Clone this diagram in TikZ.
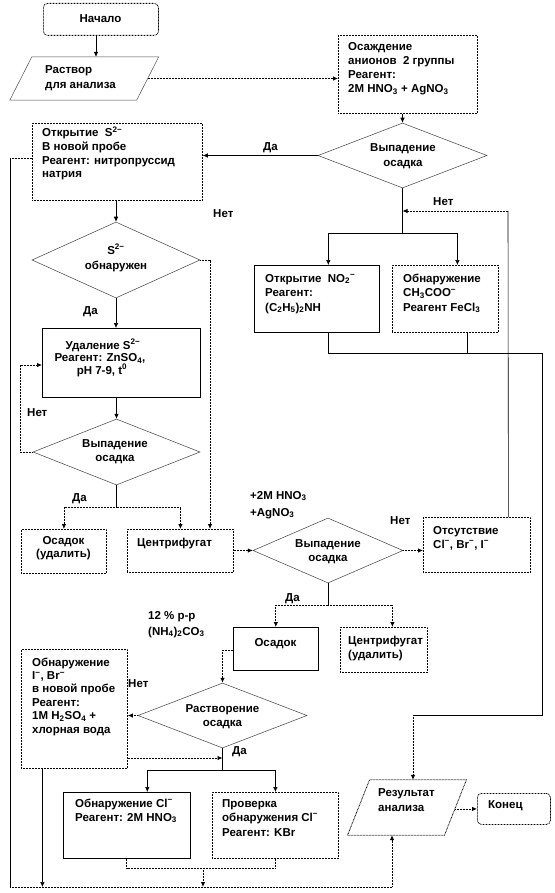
\documentclass[tikz,border=0pt]{standalone}
\usepackage{fontspec}
\setmainfont{Liberation Sans}
\usetikzlibrary{shapes.geometric,arrows.meta,calc}
\begin{document}
\begin{tikzpicture}[x=1pt,y=-1pt,
  txt/.style={anchor=base west, inner sep=0, font=\fontsize{11.5}{13.7}\selectfont\bfseries},
  ctxt/.style={anchor=base, inner sep=0, font=\fontsize{11.5}{13.7}\selectfont\bfseries},
  sbox/.style={draw=black, line width=0.6pt, inner sep=0, anchor=north west, rectangle},
  dbox/.style={draw=black, dash pattern=on 0.8pt off 0.7pt, line width=0.8pt, inner sep=0, anchor=north west, rectangle},
  dia/.style={draw=black!75, line width=0.5pt, diamond, inner sep=0},
  ln/.style={line width=0.6pt},
  dl/.style={line width=0.8pt, dash pattern=on 0.8pt off 0.7pt, draw=black},
  arr/.style={-{Latex[length=5pt,width=4.5pt]}},
]
\fill[white] (0,0) rectangle (554,893);
\useasboundingbox (0,0) rectangle (554,893);

% ---------- shapes ----------
\node[dbox, rounded corners=4pt, minimum width=115, minimum height=32] (nach) at (43,3) {};
\node[inner sep=0, minimum width=126.5, minimum height=43] (rast) at (84.25,78.5) {};
\draw[draw=black!70, line width=0.5pt] ([xshift=-11pt]rast.south west) -- ([xshift=11pt]rast.north west) -- ([xshift=11pt]rast.north east) -- ([xshift=-11pt]rast.south east) -- cycle;
\node[dbox, minimum width=139, minimum height=78] (osazh) at (338,35) {};
\node[dia, minimum width=169, minimum height=65] (d1) at (402.5,155.5) {};
\node[dbox, minimum width=170, minimum height=77] (otkrS) at (32,123) {};
\node[dia, minimum width=168, minimum height=76] (d2) at (116,260) {};
\node[sbox, minimum width=158, minimum height=69] (udal) at (42,328) {};
\node[dia, minimum width=167, minimum height=66] (d3) at (116.5,452) {};
\node[dbox, minimum width=85, minimum height=44] (osad1) at (21,529) {};
\node[dbox, minimum width=106, minimum height=43] (centr) at (127,529) {};
\node[sbox, minimum width=125, minimum height=67] (no2) at (254,265) {};
\node[dbox, minimum width=106, minimum height=67] (ch3) at (392,265) {};
\node[dia, minimum width=150, minimum height=65] (d4) at (328,550.5) {};
\node[dbox, minimum width=107, minimum height=55] (otsut) at (423,517) {};
\node[sbox, minimum width=85, minimum height=43] (osad2) at (233,627) {};
\node[dbox, minimum width=87, minimum height=45] (centr2) at (340,627) {};
\node[dia, minimum width=169, minimum height=65] (d5) at (222.5,715.5) {};
\node[dbox, minimum width=106, minimum height=119] (obnIBr) at (21,649) {};
\node[sbox, minimum width=127, minimum height=66] (obnCl) at (63,792) {};
\node[dbox, minimum width=126, minimum height=66] (prov) at (212,792) {};
\node[inner sep=0, minimum width=96.5, minimum height=55] (res) at (407,807.5) {};
\draw[dl] ([xshift=-11pt]res.south west) -- ([xshift=11pt]res.north west) -- ([xshift=11pt]res.north east) -- ([xshift=-11pt]res.south east) -- cycle;
\node[dbox, rounded corners=4pt, minimum width=73, minimum height=31] (kon) at (477,793) {};

% ---------- texts ----------
\node[ctxt] at (100.5,23) {Начало};
\node[txt] at (45,74) {Раствор};
\node[txt] at (45,89) {для анализа};
\foreach \s [count=\i from 0] in {Осаждение, анионов\ \ 2 группы, Реагент:, 2M HNO\textsubscript{3} + AgNO\textsubscript{3}}
  \node[txt] at (348,51+14*\i) {\s};
\node[ctxt] at (403,152) {Выпадение};
\node[ctxt] at (403,167) {осадка};
\foreach \s [count=\i from 0] in {Открытие\ \ S\textsuperscript{2−}, В новой пробе, Реагент: нитропруссид, натрия}
  \node[txt] at (42,137+13.6*\i) {\s};
\node[ctxt] at (116,254) {S\textsuperscript{2−}};
\node[ctxt] at (116,269) {обнаружен};
\node[ctxt] at (103,349) {Удаление S\textsuperscript{2−}};
\node[ctxt] at (100,361.5) {Реагент: ZnSO\textsubscript{4},};
\node[ctxt] at (102,374) {pH 7-9, t\textsuperscript{0}};
\node[ctxt] at (115,447) {Выпадение};
\node[ctxt] at (115,461) {осадка};
\node[ctxt] at (63.5,544) {Осадок};
\node[ctxt] at (63.5,557) {(удалить)};
\node[txt] at (137,546) {Центрифугат};
\foreach \s [count=\i from 0] in {Открытие\ \ NO\textsubscript{2}\textsuperscript{−}, Реагент:, (C\textsubscript{2}H\textsubscript{5})\textsubscript{2}NH}
  \node[txt] at (265,282+14.5*\i) {\s};
\foreach \s [count=\i from 0] in {Обнаружение, CH\textsubscript{3}COO\textsuperscript{−}, Реагент FeCl\textsubscript{3}}
  \node[txt] at (403,282+14.5*\i) {\s};
\node[txt] at (250,499) {+2M HNO\textsubscript{3}};
\node[txt] at (250,516) {+AgNO\textsubscript{3}};
\node[ctxt] at (328,547) {Выпадение};
\node[ctxt] at (328,561) {осадка};
\node[txt] at (433,534) {Отсутствие};
\node[txt] at (433,548) {Cl\textsuperscript{−}, Br\textsuperscript{−}, I\textsuperscript{−}};
\node[ctxt] at (275.5,646) {Осадок};
\node[txt] at (348,644) {Центрифугат};
\node[txt] at (348,658) {(удалить)};
\node[txt] at (148,619) {12 \% р-р};
\node[txt] at (148,635) {(NH\textsubscript{4})\textsubscript{2}CO\textsubscript{3}};
\node[ctxt] at (222.5,712) {Растворение};
\node[ctxt] at (222.5,726) {осадка};
\foreach \s [count=\i from 0] in {Обнаружение, {I\textsuperscript{−}, Br\textsuperscript{−}}, в новой пробе, Реагент:, 1M H\textsubscript{2}SO\textsubscript{4} +, хлорная вода}
  \node[txt] at (32,666+13.4*\i) {\s};
\node[txt] at (75,807) {Обнаружение Cl\textsuperscript{−}};
\node[txt] at (75,821) {Реагент: 2M HNO\textsubscript{3}};
\node[txt] at (222,807) {Проверка};
\node[txt] at (222,821) {обнаружения Cl\textsuperscript{−}};
\node[txt] at (222,836) {Реагент: KBr};
\node[txt] at (378,796) {Результат};
\node[txt] at (378,811) {анализа};
\node[txt] at (488,808) {Конец};

% ---------- connectors ----------
\draw[ln,arr] (nach.south -| 96,0) -- (rast.north -| 96,0);
\draw[dl,arr] (rast.east) -- (osazh.west |- rast.east);
\draw[ln,arr] (osazh.south -| d1.north) -- (d1.north);
\draw[ln,arr] (d1.west) -- (otkrS.east |- d1.west);
\node[txt] at (263,151) {Да};
\coordinate (sp1) at (402.5,233);
\draw[ln] (d1.south) -- (sp1);
\draw[ln,arr] (sp1) -| ([xshift=11.5pt]no2.north);
\draw[ln,arr] (sp1) -| ([xshift=12pt]ch3.north);
\coordinate (nk) at (508,211);
\draw[ln] ([xshift=31.5pt]otsut.north) -- (nk);
\draw[dl,arr] (nk) -- (sp1 |- nk);
\node[txt] at (433,206) {Нет};
\coordinate (j1) at (542,353);
\coordinate (j2) at (542,715);
\coordinate (j3) at (413,715);
\draw[ln] ([xshift=11.5pt]no2.south) |- (j1) -- (j2) -- (j3);
\draw[ln] ([xshift=21.5pt]ch3.south) -- ([xshift=21.5pt]ch3.south |- j1);
\draw[dl,arr] (j3) -- (j3 |- res.north);
\coordinate (L1) at (10,158);
\coordinate (L2) at (10,887);
\coordinate (L3) at (392,887);
\draw[dl] (otkrS.west |- L1) -- (L1);
\draw[ln] (L1) -- (L2);
\draw[dl,arr] (L2) -- (L3) -- (L3 |- res.south);
\draw[ln,arr] (d2.north |- otkrS.south) -- (d2.north);
\coordinate (n2) at (210,260);
\draw[dl,arr] (d2.east) -- (n2) -- (n2 |- centr.north);
\node[txt] at (213,218) {Нет};
\draw[ln,arr] (d2.south) -- (udal.north -| d2.south);
\node[txt] at (83,314) {Да};
\draw[ln,arr] (udal.south -| d3.north) -- (d3.north);
\coordinate (n3a) at (20,452);
\coordinate (n3b) at (20,365);
\draw[dl,arr] (d3.west) -- (n3a) -- (n3b) -- (udal.west |- n3b);
\node[txt] at (27,416) {Нет};
\coordinate (sp3) at (116.5,507);
\draw[ln] (d3.south) -- (sp3);
\draw[dl,arr] (sp3) -| (osad1.north);
\draw[dl,arr] (sp3) -| (centr.north);
\node[txt] at (72,501) {Да};
\draw[dl,arr] (centr.east |- d4.west) -- (d4.west);
\draw[dl,arr] (d4.east) -- (otsut.west |- d4.east);
\node[txt] at (390,524) {Нет};
\coordinate (sp4) at (328,605);
\draw[ln] (d4.south) -- (sp4);
\draw[dl,arr] (sp4) -| (osad2.north);
\draw[dl,arr] (sp4) -| ([xshift=8.5pt]centr2.north);
\node[txt] at (285,601) {Да};
\coordinate (k5) at (222.5,650);
\draw[dl,arr] (osad2.west |- k5) -- (k5) -- (d5.north);
\draw[dl,arr] (d5.west) -- (obnIBr.east |- d5.west);
\node[txt] at (128,687) {Нет};
\draw[dl,arr] (obnIBr.east |- 0,758) -- (d5.south |- 0,758);
\node[txt] at (232,754) {Да};
\coordinate (sp5) at (222.5,770);
\draw[ln] (d5.south) -- (sp5);
\draw[ln,arr] (sp5) -| ([xshift=20.5pt]obnCl.north);
\draw[ln,arr] (sp5) -| (prov.north);
\coordinate (b1) at (203,868);
\draw[dl] (obnCl.south) |- (b1);
\draw[dl] (prov.south) |- (b1);
\draw[dl,arr] (b1) -- (b1 |- L2);
\draw[ln,arr] ([xshift=-32pt]obnIBr.south) -- ([xshift=-32pt]obnIBr.south |- L2);
\draw[dl,arr] (res.east |- kon.west) -- (kon.west);
\end{tikzpicture}
\end{document}
